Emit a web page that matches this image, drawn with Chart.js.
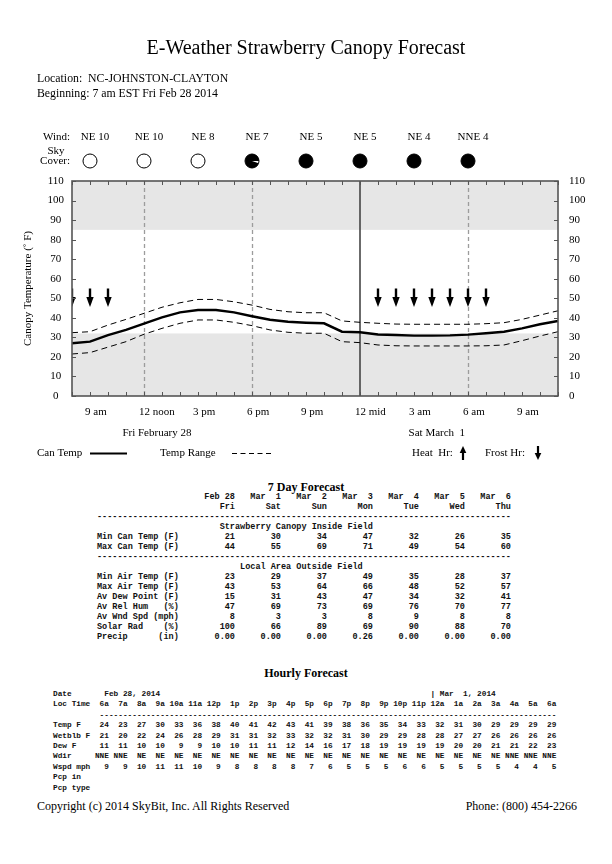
<!DOCTYPE html>
<html>
<head>
<meta charset="utf-8">
<script src="https://cdn.jsdelivr.net/npm/chart.js@4.4.1/dist/chart.umd.min.js"></script>
<style>
  html, body { margin: 0; padding: 0; background: #fff; }
  body { width: 612px; height: 864px; position: relative; overflow: hidden; font-family: "Liberation Serif", "Times New Roman", serif; color: #000; }
  #chartBox { position: absolute; left: 0; top: 0; width: 612px; height: 475px; }
  .t { position: absolute; white-space: pre; z-index: 2; }
  .mono { font-family: "Liberation Mono", "Courier New", monospace; font-weight: bold; color: #111; }
</style>
</head>
<body>
<div class="t" style="left:0;width:612px;text-align:center;top:35px;font-size:20px;line-height:24px;">E-Weather Strawberry Canopy Forecast</div>
<div class="t" style="left:37px;top:71px;font-size:11.8px;line-height:14px;">Location:  NC-JOHNSTON-CLAYTON</div>
<div class="t" style="left:37px;top:86px;font-size:11.8px;line-height:14px;">Beginning: 7 am EST Fri Feb 28 2014</div>

<div id="chartBox"><canvas id="c" width="612" height="475"></canvas></div>

<div class="t" style="left:0;width:612px;text-align:center;top:480px;font-size:12px;line-height:14px;font-weight:bold;">7 Day Forecast</div>
<div class="t mono" id="daily" style="left:97px;top:492px;font-size:8.53px;line-height:10px;"></div>

<div class="t" style="left:0;width:612px;text-align:center;top:666px;font-size:12px;line-height:14px;font-weight:bold;">Hourly Forecast</div>
<div class="t mono" id="hourly" style="left:53px;top:689px;font-size:7.78px;line-height:10.4px;"></div>

<div class="t" style="left:37px;top:799px;font-size:12px;line-height:14px;">Copyright (c) 2014 SkyBit, Inc. All Rights Reserved</div>
<div class="t" style="right:35px;top:799px;font-size:12px;line-height:14px;">Phone: (800) 454-2266</div>

<script>
// ---------------- chart data (hours counted from 0:00 Fri Feb 28) ----------------
const hours     = [8,9,10,11,12,13,14,15,16,17,18,19,20,21,22,23,24,25,26,27,28,29,30,31,32,33,34,35];
const canTemp   = [27.0,27.8,31.2,33.8,37.0,40.2,42.8,44.0,44.0,42.8,40.8,39.0,38.0,37.5,37.2,32.9,32.6,31.5,31.2,30.9,30.9,31.0,31.4,32.1,32.9,34.6,36.7,38.4];
const rangeHigh = [32.4,32.9,36.3,39.2,42.3,45.4,47.7,49.4,49.4,48.2,46.5,44.3,43.1,42.6,42.6,38.4,37.7,37.2,36.8,36.7,36.7,36.7,36.7,37.0,37.5,39.2,41.4,43.6];
const rangeLow  = [21.5,22.2,25.0,27.8,31.6,34.6,37.2,38.9,38.9,37.7,36.0,33.8,32.6,32.1,32.1,27.8,27.3,26.1,25.7,25.6,25.6,25.6,25.6,25.7,26.1,28.3,30.7,32.9];

const timeLabelHours = [9,12,15,18,21,24,27,30,33];
const timeLabels     = ['9 am','12 noon','3 pm','6 pm','9 pm','12 mid','3 am','6 am','9 am'];
const dateLabelHours = [10.8,26.7];
const dateLabels     = ['Fri February 28','Sat March  1'];

const windHours  = [9,12,15,18,21,24,27,30];
const windLabels = ['NE 10','NE 10','NE 8','NE 7','NE 5','NE 5','NE 4','NNE 4'];
const skyCover   = [0,0,0,95,100,100,100,100];   // percent
const frostHours = [8,9,10,25,26,27,28,29,30,31];
const heatHours  = [];

const dashedHours   = [12,18,30];
const midnightHours = [24];
const bandRanges    = [[0,32],[85,110]];   // shaded temperature ranges (F)
const yMin = 0, yMax = 110, yStep = 10;

// ---------------- 7 day forecast ----------------
const dayDates   = ['Feb 28','Mar  1','Mar  2','Mar  3','Mar  4','Mar  5','Mar  6'];
const dayNames   = ['Fri','Sat','Sun','Mon','Tue','Wed','Thu'];
const minCanTemp = [21,30,34,47,32,26,35];
const maxCanTemp = [44,55,69,71,49,54,60];
const minAirTemp = [23,29,37,49,35,28,37];
const maxAirTemp = [43,53,64,66,48,52,57];
const avDewPoint = [15,31,43,47,34,32,41];
const avRelHum   = [47,69,73,69,76,70,77];
const avWndSpd   = [8,3,3,8,9,8,8];
const solarRad   = [100,66,89,69,90,88,70];
const precipIn   = ['0.00','0.00','0.00','0.26','0.00','0.00','0.00'];

// ---------------- hourly forecast ----------------
const hrTimes  = ['6a','7a','8a','9a','10a','11a','12p','1p','2p','3p','4p','5p','6p','7p','8p','9p','10p','11p','12a','1a','2a','3a','4a','5a','6a'];
const hrTemp   = [24,23,27,30,33,36,38,40,41,42,43,41,39,38,36,35,34,33,32,31,30,29,29,29,29];
const hrWetblb = [21,20,22,24,26,28,29,31,31,32,33,32,32,31,30,29,29,28,28,27,27,26,26,26,26];
const hrDew    = [11,11,10,10,9,9,10,10,11,11,12,14,16,17,18,19,19,19,19,20,20,21,21,22,23];
const hrWdir   = ['NNE','NNE','NE','NE','NE','NE','NE','NE','NE','NE','NE','NE','NE','NE','NE','NE','NE','NE','NE','NE','NE','NE','NNE','NNE','NNE'];
const hrWspd   = [9,9,10,11,11,10,9,8,8,8,8,7,6,5,5,5,6,6,5,5,5,5,4,4,5];

// ---------------- text tables ----------------
(function buildTables(){
  const dRow = (label, vals) => label.padEnd(18) + vals.map(v => String(v).padStart(9)).join('');
  const dash = '-'.repeat(81);
  const daily = [
    dRow('', dayDates),
    dRow('', dayNames),
    dash,
    ' '.repeat(24) + 'Strawberry Canopy Inside Field',
    dRow('Min Can Temp (F)', minCanTemp),
    dRow('Max Can Temp (F)', maxCanTemp),
    dash,
    ' '.repeat(28) + 'Local Area Outside Field',
    dRow('Min Air Temp (F)', minAirTemp),
    dRow('Max Air Temp (F)', maxAirTemp),
    dRow('Av Dew Point (F)', avDewPoint),
    dRow('Av Rel Hum   (%)', avRelHum),
    dRow('Av Wnd Spd (mph)', avWndSpd),
    dRow('Solar Rad    (%)', solarRad),
    dRow('Precip      (in)', precipIn)
  ];
  document.getElementById('daily').textContent = daily.join('\n');

  const hRow = (label, vals) => label.padEnd(8) + vals.map(v => String(v).padStart(4)).join('');
  const hourly = [
    ('Date'.padEnd(11) + 'Feb 28, 2014').padEnd(81) + '| Mar  1, 2014',
    hRow('Loc Time', hrTimes),
    ' '.repeat(10) + '-'.repeat(98),
    hRow('Temp F', hrTemp),
    hRow('Wetblb F', hrWetblb),
    hRow('Dew F', hrDew),
    hRow('Wdir', hrWdir),
    hRow('Wspd mph', hrWspd),
    'Pcp in',
    'Pcp type'
  ];
  document.getElementById('hourly').textContent = hourly.join('\n');
})();

// ---------------- chart ----------------
const SERIF = '"Liberation Serif", "Times New Roman", serif';
const FS = 11;
Chart.defaults.font.family = SERIF;
Chart.defaults.color = '#000';

function drawArrow(ctx, cx, yStart, yTip, headLen, headHalf, shaftHalf) {
  const dir = yTip > yStart ? 1 : -1;
  const headBase = yTip - dir * headLen;
  ctx.beginPath();
  ctx.rect(cx - shaftHalf, Math.min(yStart, headBase), shaftHalf * 2, Math.abs(headBase - yStart));
  ctx.fill();
  ctx.beginPath();
  ctx.moveTo(cx - headHalf, headBase);
  ctx.lineTo(cx + headHalf, headBase);
  ctx.lineTo(cx, yTip);
  ctx.closePath();
  ctx.fill();
}

const decor = {
  id: 'decor',
  beforeDatasetsDraw(chart) {
    const {ctx, chartArea: a, scales: {x, y}} = chart;
    ctx.save();
    ctx.fillStyle = '#e6e6e6';
    bandRanges.forEach(([lo, hi]) => {
      const t = y.getPixelForValue(hi), b = y.getPixelForValue(lo);
      ctx.fillRect(a.left, t, a.right - a.left, b - t);
    });
    ctx.strokeStyle = '#9c9c9c';
    ctx.lineWidth = 1.3;
    ctx.setLineDash([4, 3]);
    dashedHours.forEach(h => {
      const px = Math.round(x.getPixelForValue(h)) + 0.5;
      ctx.beginPath(); ctx.moveTo(px, a.top); ctx.lineTo(px, a.bottom); ctx.stroke();
    });
    ctx.setLineDash([]);
    ctx.strokeStyle = '#3a3a3a';
    ctx.lineWidth = 1.5;
    midnightHours.forEach(h => {
      const px = x.getPixelForValue(h);
      ctx.beginPath(); ctx.moveTo(px, a.top); ctx.lineTo(px, a.bottom); ctx.stroke();
    });
    ctx.restore();
  },
  afterDatasetsDraw(chart) {
    const {ctx, chartArea: a, scales: {x, y}} = chart;
    ctx.save();
    ctx.beginPath(); ctx.rect(a.left, a.top, a.right - a.left, a.bottom - a.top); ctx.clip();
    ctx.fillStyle = '#000';
    frostHours.forEach(h => {
      drawArrow(ctx, x.getPixelForValue(h), y.getPixelForValue(55), y.getPixelForValue(45.5), 10, 3.7, 1.2);
    });
    heatHours.forEach(h => {
      drawArrow(ctx, x.getPixelForValue(h), y.getPixelForValue(45.5), y.getPixelForValue(55), 10, 3.7, 1.2);
    });
    ctx.restore();

    ctx.save();
    ctx.strokeStyle = '#555';
    ctx.lineWidth = 1;
    hours.forEach(h => {
      const px = Math.round(x.getPixelForValue(h)) + 0.5;
      ctx.beginPath();
      ctx.moveTo(px, a.bottom); ctx.lineTo(px, a.bottom - 4);
      ctx.moveTo(px, a.top); ctx.lineTo(px, a.top + 4);
      ctx.stroke();
    });
    for (let v = yMin; v <= yMax; v += yStep) {
      const py = Math.round(y.getPixelForValue(v)) + 0.5;
      ctx.beginPath();
      ctx.moveTo(a.left, py); ctx.lineTo(a.left + 4, py);
      ctx.moveTo(a.right, py); ctx.lineTo(a.right - 4, py);
      ctx.stroke();
    }
    ctx.strokeStyle = '#555';
    ctx.lineWidth = 1.6;
    ctx.strokeRect(a.left, a.top, a.right - a.left, a.bottom - a.top);
    ctx.restore();
  },
  afterDraw(chart) {
    const {ctx, scales: {x}} = chart;
    ctx.save();
    ctx.fillStyle = '#000';
    ctx.strokeStyle = '#000';
    ctx.font = FS + 'px ' + SERIF;
    ctx.textBaseline = 'middle';
    ctx.textAlign = 'right';
    ctx.fillText('Wind:', 70, 137);
    ctx.fillText('Cover:', 70, 161.5);
    ctx.textAlign = 'center';
    ctx.fillText('Sky', 56, 151.5);
    windHours.forEach((h, i) => ctx.fillText(windLabels[i], x.getPixelForValue(h) + 5, 137));
    windHours.forEach((h, i) => {
      const cx = x.getPixelForValue(h), cy = 161, r = 7;
      const c = skyCover[i];
      if (c > 0) {
        const gap = (100 - c) / 100 * Math.PI * 2;
        ctx.beginPath();
        if (c < 100) { ctx.moveTo(cx, cy); ctx.arc(cx, cy, r, gap, Math.PI * 2); ctx.closePath(); }
        else ctx.arc(cx, cy, r, 0, Math.PI * 2);
        ctx.fill();
      }
      ctx.beginPath(); ctx.lineWidth = 1; ctx.arc(cx, cy, r, 0, Math.PI * 2); ctx.stroke();
    });
    ctx.textAlign = 'left';
    dateLabelHours.forEach((h, i) => ctx.fillText(dateLabels[i], x.getPixelForValue(h), 433));
    const ly = 453.5;
    ctx.fillText('Can Temp', 37, ly);
    ctx.lineWidth = 2.2;
    ctx.beginPath(); ctx.moveTo(90, ly); ctx.lineTo(127, ly); ctx.stroke();
    ctx.fillText('Temp Range', 160, ly);
    ctx.lineWidth = 1;
    ctx.setLineDash([5, 3.5]);
    ctx.beginPath(); ctx.moveTo(232, ly); ctx.lineTo(272, ly); ctx.stroke();
    ctx.setLineDash([]);
    ctx.fillText('Heat  Hr:', 412, ly);
    drawArrow(ctx, 463, 460, 446, 7, 3.3, 1.1);
    ctx.fillText('Frost Hr:', 485, ly);
    drawArrow(ctx, 538, 446, 460, 7, 3.3, 1.1);
    ctx.restore();
  }
};

const toXY = arr => hours.map((h, i) => ({x: h, y: arr[i]}));

new Chart(document.getElementById('c'), {
  type: 'line',
  data: {
    datasets: [
      { label: 'Can Temp', data: toXY(canTemp), borderColor: '#000', borderWidth: 2.4, pointRadius: 0, tension: 0, fill: false },
      { label: 'Temp Range High', data: toXY(rangeHigh), borderColor: '#000', borderWidth: 1, borderDash: [6, 4], pointRadius: 0, tension: 0, fill: false },
      { label: 'Temp Range Low', data: toXY(rangeLow), borderColor: '#000', borderWidth: 1, borderDash: [6, 4], pointRadius: 0, tension: 0, fill: false }
    ]
  },
  options: {
    responsive: false,
    animation: false,
    events: [],
    layout: { padding: { top: 181, left: 0, right: 0, bottom: 0 } },
    plugins: { legend: { display: false }, tooltip: { enabled: false } },
    scales: {
      x: {
        type: 'linear', min: hours[0], max: hours[hours.length - 1],
        grid: { display: false, drawTicks: false }, border: { display: false },
        ticks: {
          stepSize: 1, autoSkip: false, maxRotation: 0, minRotation: 0,
          align: 'start', labelOffset: -5, padding: 10,
          font: { size: FS }, color: '#000',
          callback: v => { const i = timeLabelHours.indexOf(v); return i >= 0 ? timeLabels[i] : ''; }
        },
        afterFit: s => { s.height = 79; }
      },
      y: {
        position: 'left', min: yMin, max: yMax,
        grid: { display: false, drawTicks: false }, border: { display: false },
        ticks: { stepSize: yStep, crossAlign: 'center', padding: 8, font: { size: FS }, color: '#000' },
        title: { display: true, text: 'Canopy Temperature (˚ F)', font: { size: FS }, color: '#000', padding: { top: 22, bottom: 0 } },
        afterFit: s => { s.width = 72; }
      },
      y2: {
        position: 'right', min: yMin, max: yMax,
        grid: { display: false, drawTicks: false }, border: { display: false },
        ticks: { stepSize: yStep, crossAlign: 'near', padding: 11, font: { size: FS }, color: '#000' },
        afterFit: s => { s.width = 54; }
      }
    }
  },
  plugins: [decor]
});
</script>
</body>
</html>
